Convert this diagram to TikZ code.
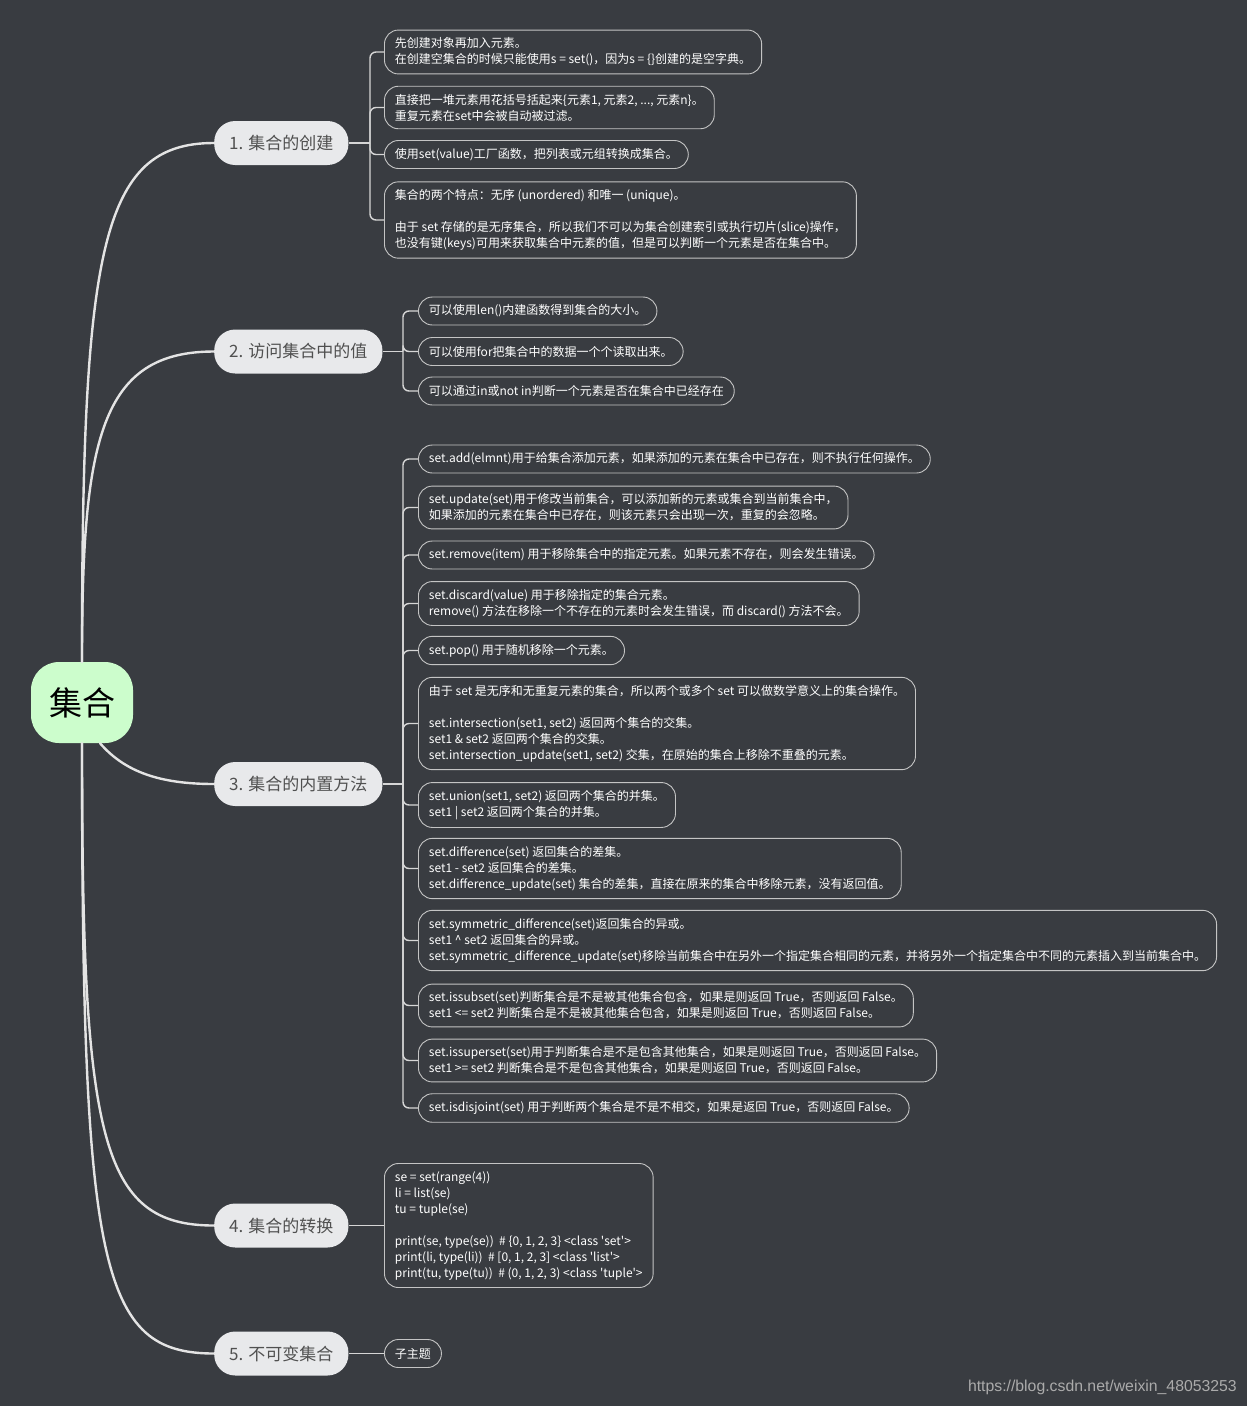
\documentclass[tikz,border=0pt]{standalone}
\usepackage{fontspec}
\setmainfont{Noto Sans CJK SC}
\newfontfamily\wmfont{Liberation Sans}
\definecolor{bgc}{HTML}{393C41}
\definecolor{linec}{HTML}{E4E4E4}
\definecolor{busc}{HTML}{D6D6D6}
\definecolor{leafc}{HTML}{C4C4C4}
\definecolor{brfill}{HTML}{E8E9EB}
\definecolor{brtext}{HTML}{505050}
\definecolor{rootfill}{HTML}{CCFDCC}
\definecolor{wmc}{HTML}{ABABAB}
\begin{document}
\begin{tikzpicture}[x=1pt,y=-1pt,
  leaf/.style={draw=leafc, line width=0.9pt, rounded corners=14pt, anchor=west, align=left,
    text=white, inner xsep=10.5pt, inner ysep=7.7pt, minimum height=28pt,
    font=\fontsize{12}{16}\selectfont},
  branch/.style={fill=brfill, rounded corners=21pt, anchor=west, text=brtext,
    minimum height=44pt, inner xsep=15pt, font=\fontsize{17}{20}\selectfont},
  rootnode/.style={fill=rootfill, rounded corners=28pt, minimum width=102pt,
    minimum height=81pt, text=black, font=\fontsize{33}{36}\selectfont},
  trunk/.style={draw=linec, line width=2.4pt, line cap=round},
  bus/.style={draw=busc, line width=1.4pt, rounded corners=6pt}]
\fill[bgc] (0,0) rectangle (1247,1406);
\useasboundingbox (0,0) rectangle (1247,1406);

% root and branches
\node[rootnode] (root) at (82,702.5) {集合};
\node[branch] (b1) at (214,143) {1. 集合的创建};
\node[branch] (b2) at (214,351.5) {2. 访问集合中的值};
\node[branch] (b3) at (214,784) {3. 集合的内置方法};
\node[branch] (b4) at (214,1225.5) {4. 集合的转换};
\node[branch] (b5) at (214,1353.5) {5. 不可变集合};

\draw[trunk] (root.north) .. controls (82,250) and (100,143) .. (b1.west);
\draw[trunk] (root.north) .. controls (82,440) and (100,351.5) .. (b2.west);
\draw[trunk] ([xshift=18pt]root.south) .. controls (125,772) and (160,784) .. (b3.west);
\draw[trunk] (root.south) .. controls (82,1140) and (100,1225.5) .. (b4.west);
\draw[trunk] (root.south) .. controls (82,1270) and (100,1353.5) .. (b5.west);

% branch 1 leaves
\node[leaf] (a1) at (384,52) {先创建对象再加入元素。\\在创建空集合的时候只能使用s = set()，因为s = \{\}创建的是空字典。};
\node[leaf] (a2) at (384,107.5) {直接把一堆元素用花括号括起来\{元素1, 元素2, ..., 元素n\}。\\重复元素在set中会被自动被过滤。};
\node[leaf] (a3) at (384,154.5) {使用set(value)工厂函数，把列表或元组转换成集合。};
\node[leaf] (a4) at (384,220) {集合的两个特点：无序 (unordered) 和唯一 (unique)。\\[16pt]由于 set 存储的是无序集合，所以我们不可以为集合创建索引或执行切片(slice)操作，\\也没有键(keys)可用来获取集合中元素的值，但是可以判断一个元素是否在集合中。};
\coordinate (j1) at (370,143);
\draw[bus] (b1.east) -- (j1);
\foreach \n in {a1,a2,a3,a4} \draw[bus] (j1) |- (\n.west);

% branch 2 leaves
\node[leaf] (m1) at (418,311) {可以使用len()内建函数得到集合的大小。};
\node[leaf] (m2) at (418,351.5) {可以使用for把集合中的数据一个个读取出来。};
\node[leaf] (m3) at (418,391) {可以通过in或not in判断一个元素是否在集合中已经存在};
\coordinate (j2) at (403,351.5);
\draw[bus] (b2.east) -- (j2);
\foreach \n in {m1,m2,m3} \draw[bus] (j2) |- (\n.west);

% branch 3 leaves
\node[leaf] (c1) at (418,459) {set.add(elmnt)用于给集合添加元素，如果添加的元素在集合中已存在，则不执行任何操作。};
\node[leaf] (c2) at (418,507.5) {set.update(set)用于修改当前集合，可以添加新的元素或集合到当前集合中，\\如果添加的元素在集合中已存在，则该元素只会出现一次，重复的会忽略。};
\node[leaf] (c3) at (418,555) {set.remove(item) 用于移除集合中的指定元素。如果元素不存在，则会发生错误。};
\node[leaf] (c4) at (418,603.5) {set.discard(value) 用于移除指定的集合元素。\\remove() 方法在移除一个不存在的元素时会发生错误，而 discard() 方法不会。};
\node[leaf] (c5) at (418,650.5) {set.pop() 用于随机移除一个元素。};
\node[leaf] (c6) at (418,723.5) {由于 set 是无序和无重复元素的集合，所以两个或多个 set 可以做数学意义上的集合操作。\\[16pt]set.intersection(set1, set2) 返回两个集合的交集。\\set1 \& set2 返回两个集合的交集。\\set.intersection\_update(set1, set2) 交集，在原始的集合上移除不重叠的元素。};
\node[leaf] (c7) at (418,805) {set.union(set1, set2) 返回两个集合的并集。\\set1 | set2 返回两个集合的并集。};
\node[leaf] (c8) at (418,868.5) {set.difference(set) 返回集合的差集。\\set1 - set2 返回集合的差集。\\set.difference\_update(set) 集合的差集，直接在原来的集合中移除元素，没有返回值。};
\node[leaf] (c9) at (418,940.5) {set.symmetric\_difference(set)返回集合的异或。\\set1 \textasciicircum{} set2 返回集合的异或。\\set.symmetric\_difference\_update(set)移除当前集合中在另外一个指定集合相同的元素，并将另外一个指定集合中不同的元素插入到当前集合中。};
\node[leaf] (c10) at (418,1005.5) {set.issubset(set)判断集合是不是被其他集合包含，如果是则返回 True，否则返回 False。\\set1 <= set2 判断集合是不是被其他集合包含，如果是则返回 True，否则返回 False。};
\node[leaf] (c11) at (418,1060.5) {set.issuperset(set)用于判断集合是不是包含其他集合，如果是则返回 True，否则返回 False。\\set1 >= set2 判断集合是不是包含其他集合，如果是则返回 True，否则返回 False。};
\node[leaf] (c12) at (418,1108) {set.isdisjoint(set) 用于判断两个集合是不是不相交，如果是返回 True，否则返回 False。};
\coordinate (j3) at (403,784);
\draw[bus] (b3.east) -- (j3);
\foreach \n in {c1,c2,c3,c4,c5,c6,c7,c8,c9,c10,c11,c12} \draw[bus] (j3) |- (\n.west);

% branch 4 leaf
\node[leaf] (d1) at (384,1225.5) {se = set(range(4))\\li = list(se)\\tu = tuple(se)\\[16pt]print(se, type(se))~ \# \{0, 1, 2, 3\} <class \textquotesingle{}set\textquotesingle{}>\\print(li, type(li))~ \# [0, 1, 2, 3] <class \textquotesingle{}list\textquotesingle{}>\\print(tu, type(tu))~ \# (0, 1, 2, 3) <class \textquotesingle{}tuple\textquotesingle{}>};
\draw[bus] (b4.east) -- (d1.west);

% branch 5 leaf
\node[leaf] (e1) at (384,1353.5) {子主题};
\draw[bus] (b5.east) -- (e1.west);

% watermark
\node[anchor=east, text=wmc, font=\wmfont\fontsize{15.8}{18}\selectfont, inner sep=0pt] (wm) at (1237,1387) {https://blog.csdn.net/weixin\_48053253};
\end{tikzpicture}
\end{document}
